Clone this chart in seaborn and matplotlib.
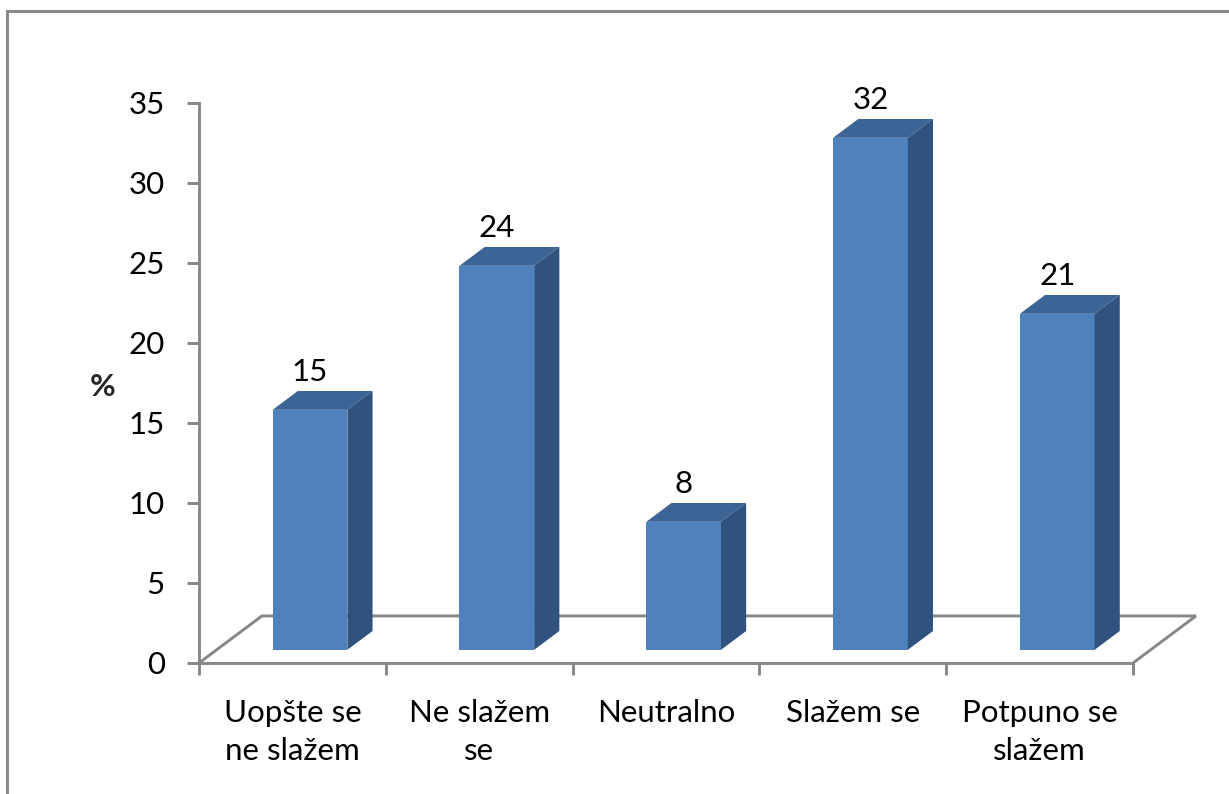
import matplotlib
matplotlib.use("Agg")
import matplotlib.pyplot as plt
import seaborn as sns
from matplotlib.patches import Polygon, Rectangle
from matplotlib.ticker import FixedLocator

categories = ["Uopšte se\nne slažem", "Ne slažem\nse", "Neutralno", "Slažem se", "Potpuno se\nslažem"]
values = [15, 24, 8, 32, 21]
y_ticks = [0, 5, 10, 15, 20, 25, 30, 35]
y_label = "%"

FRONT = "#4F81BD"
TOP = "#3C6595"
SIDE = "#30527E"
GRAY = "#878787"
FS = 22.5

# floor depth vector (data units) and bar placement inside the depth
DEPTH_X, DEPTH_Y = 0.337, 2.94
BAR_FRONT, BAR_DEPTH = 0.28, 0.40

sns.set_theme(style="white")
plt.rcParams["font.family"] = ["Lato", "DejaVu Sans"]

fig = plt.figure(figsize=(12.29, 7.94), dpi=100)
ax = fig.add_axes([0.1619, 0.1650, 0.7600, 0.7053])

sns.barplot(x=categories, y=values, order=categories, width=0.40,
            color=FRONT, saturation=1, ax=ax, zorder=3)

ax.set_xlim(-0.5, len(categories) - 0.5)
ax.set_ylim(0, 35)

# floor outline (left, back, right edges); front edge is the bottom spine
fx0, fx1 = -0.5, len(categories) - 0.5
ax.plot([fx0, fx0 + DEPTH_X, fx1 + DEPTH_X, fx1], [0, DEPTH_Y, DEPTH_Y, 0],
        color=GRAY, lw=2.1, clip_on=False, zorder=1, solid_joinstyle="miter")

# turn flat bars into boxes
sx, sy = BAR_FRONT * DEPTH_X, BAR_FRONT * DEPTH_Y
dx, dy = BAR_DEPTH * DEPTH_X, BAR_DEPTH * DEPTH_Y
for p, v in zip(list(ax.patches), values):
    x0 = p.get_x() + sx
    w = p.get_width()
    h = p.get_height()
    p.set_x(x0)
    p.set_y(sy)
    p.set_edgecolor("none")
    y1 = sy + h
    top = Polygon([(x0, y1), (x0 + dx, y1 + dy), (x0 + w + dx, y1 + dy), (x0 + w, y1)],
                  closed=True, facecolor=TOP, edgecolor="none", zorder=3, clip_on=False)
    side = Polygon([(x0 + w, sy), (x0 + w + dx, sy + dy), (x0 + w + dx, y1 + dy), (x0 + w, y1)],
                   closed=True, facecolor=SIDE, edgecolor="none", zorder=3, clip_on=False)
    ax.add_patch(top)
    ax.add_patch(side)
    ax.text(x0 + w / 2, y1 + 1.5, f"{v}", ha="center", va="bottom",
            fontsize=FS, color="black", zorder=4)

# spines and ticks
for s in ["top", "right"]:
    ax.spines[s].set_visible(False)
for s in ["left", "bottom"]:
    ax.spines[s].set_color(GRAY)
    ax.spines[s].set_linewidth(2.1)

ax.set_yticks(y_ticks)
ax.tick_params(axis="y", length=8.5, width=2.1, color=GRAY, labelsize=FS,
               labelcolor="black", pad=16, left=True)
ax.xaxis.set_minor_locator(FixedLocator([i - 0.5 for i in range(len(categories) + 1)]))
ax.tick_params(axis="x", which="major", length=0, labelsize=FS, labelcolor="black", pad=26)
ax.tick_params(axis="x", which="minor", length=8.5, width=2.1, color=GRAY, bottom=True)
for t in ax.get_xticklabels():
    t.set_linespacing(1.42)

ax.set_xlabel("")
ax.set_ylabel(y_label, rotation=0, fontsize=FS, fontweight="bold", ha="center", va="center")
ax.yaxis.set_label_coords(-0.103, 0.493)

# chart area border
fig.patches.append(Rectangle((7 / 1229, -0.05), 1.1, 1 - 11 / 794 + 0.05,
                             transform=fig.transFigure, fill=False,
                             edgecolor=GRAY, lw=2.1, zorder=0))

fig.savefig("out.png", dpi=100)
